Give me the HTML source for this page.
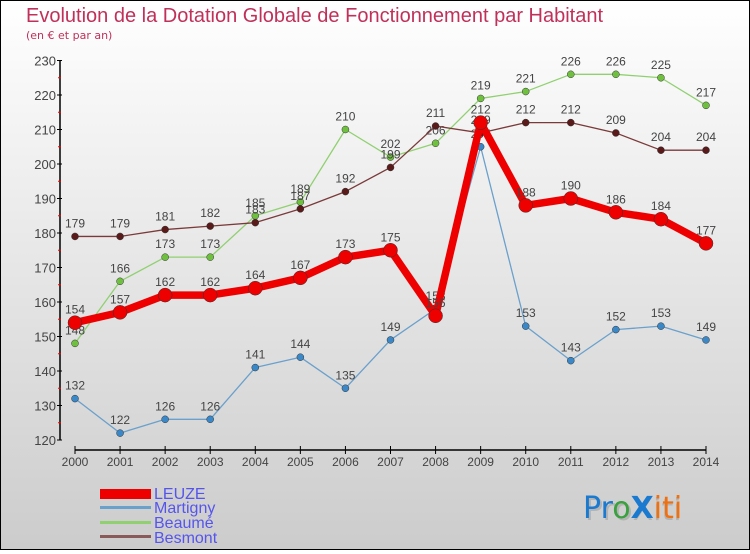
<!DOCTYPE html>
<html><head><meta charset="utf-8"><style>
html,body{margin:0;padding:0}
body{width:750px;height:550px;overflow:hidden;font-family:"DejaVu Sans","Liberation Sans",sans-serif}
</style></head><body>
<svg id="chart" width="750" height="550" xmlns="http://www.w3.org/2000/svg">
<defs><linearGradient id="bg" x1="0" y1="0" x2="0" y2="1"><stop offset="0" stop-color="#ffffff"/><stop offset="1" stop-color="#cccccc"/></linearGradient></defs>
<rect x="0.5" y="0.5" width="749" height="549" fill="url(#bg)" stroke="#000"/>
<text x="26" y="22" font-size="20" fill="#c0305a" font-family="'Liberation Sans',sans-serif">Evolution de la Dotation Globale de Fonctionnement par Habitant</text>
<text x="26" y="39" font-size="11" fill="#c0305a">(en € et par an)</text>
<g id="axes"></g><g id="series"></g>
<g font-size="16" fill="#5555ee" font-family="'Liberation Sans',sans-serif">
<rect x="100" y="489" width="51" height="10" fill="#e00"/>
<text x="154" y="499">LEUZE</text>
<rect x="100" y="506" width="51" height="3" fill="#6aa0cc"/>
<text x="154" y="513">Martigny</text>
<rect x="100" y="521" width="51" height="3" fill="#90d070"/>
<text x="154" y="528">Beaumé</text>
<rect x="100" y="535" width="51" height="3" fill="#8a5a5a"/>
<text x="154" y="543">Besmont</text>
</g>
<g font-size="30" font-family="'DejaVu Sans',sans-serif">
<text x="585" y="520" fill="#999" opacity="0.5">ProXiti</text>
<text x="583" y="518"><tspan fill="#1a7ad0">Pr</tspan><tspan fill="#3aa040">o</tspan><tspan fill="#1a7ad0" font-weight="bold">X</tspan><tspan fill="#f07010">iti</tspan></text>
</g>
</svg>
<script>
const years=[2000,2001,2002,2003,2004,2005,2006,2007,2008,2009,2010,2011,2012,2013,2014];
const yTicks=[120,130,140,150,160,170,180,190,200,210,220,230];
const leuze=[154,157,162,162,164,167,173,175,156,212,188,190,186,184,177];
const martigny=[132,122,126,126,141,144,135,149,158,205,153,143,152,153,149];
const beaume=[148,166,173,173,185,189,210,202,206,219,221,226,226,225,217];
const besmont=[179,179,181,182,183,187,192,199,211,209,212,212,209,204,204];
const NS="http://www.w3.org/2000/svg";
function X(i){return 75+i*(706-75)/(years.length-1);}
function Y(v){return 440-(v-120)*3.45;}
function mk(t,a,p){const e=document.createElementNS(NS,t);for(const k in a)e.setAttribute(k,a[k]);p.appendChild(e);return e;}
const ax=document.getElementById('axes');
let e=mk('line',{x1:60,y1:Y(230),x2:60,y2:Y(120),stroke:'#000','stroke-width':1.5},ax);


e=mk('line',{x1:X(0),y1:450,x2:X(14),y2:450,stroke:'#000','stroke-width':1.5},ax);


yTicks.forEach(v=>{
 mk('line',{x1:57,y1:Y(v),x2:62,y2:Y(v),stroke:'#000'},ax);
 if(v<230) mk('line',{x1:58,y1:Y(v+5),x2:61,y2:Y(v+5),stroke:'#f00'},ax);
 const t=mk('text',{x:56,y:Y(v)+5,'font-size':13,fill:'#444','text-anchor':'end','font-family':"'Liberation Sans',sans-serif"},ax);
 t.textContent=v;
 
 
});
years.forEach((y,i)=>{
 mk('line',{x1:X(i),y1:446,x2:X(i),y2:454,stroke:'#000'},ax);
 const t=mk('text',{x:X(i),y:466,'font-size':12,fill:'#444','text-anchor':'middle','font-family':"'Liberation Sans',sans-serif"},ax);
 t.textContent=y;
 
 
});
const sg=document.getElementById('series');
function draw(name,data,color,w,r,dot){
 const g=mk('g',{},sg);
 
 
 const l=mk('polyline',{points:data.map((v,i)=>X(i)+','+Y(v)).join(' '),fill:'none',stroke:color,'stroke-width':w,'stroke-linejoin':'round'},g);
 
 
 data.forEach((v,i)=>{
  const c=mk('circle',{cx:X(i),cy:Y(v),r:r,fill:dot,stroke:'#333','stroke-width':0.5},g);
  
  
  const t=mk('text',{x:X(i),y:Y(v)-9,'font-size':12,fill:'#444','text-anchor':'middle','font-family':"'Liberation Sans',sans-serif"},g);
  t.textContent=v;
  
  
 });
}
draw('martigny',martigny,'#6aa0cc',1.3,3.5,'#3a88c8');
draw('beaume',beaume,'#90d070',1.3,3.5,'#70c040');
draw('besmont',besmont,'#7a3a3a',1.3,3.5,'#5a1a1a');
draw('leuze',leuze,'#ee0000',7.5,7,'#ee0000');
</script>
</body></html>
